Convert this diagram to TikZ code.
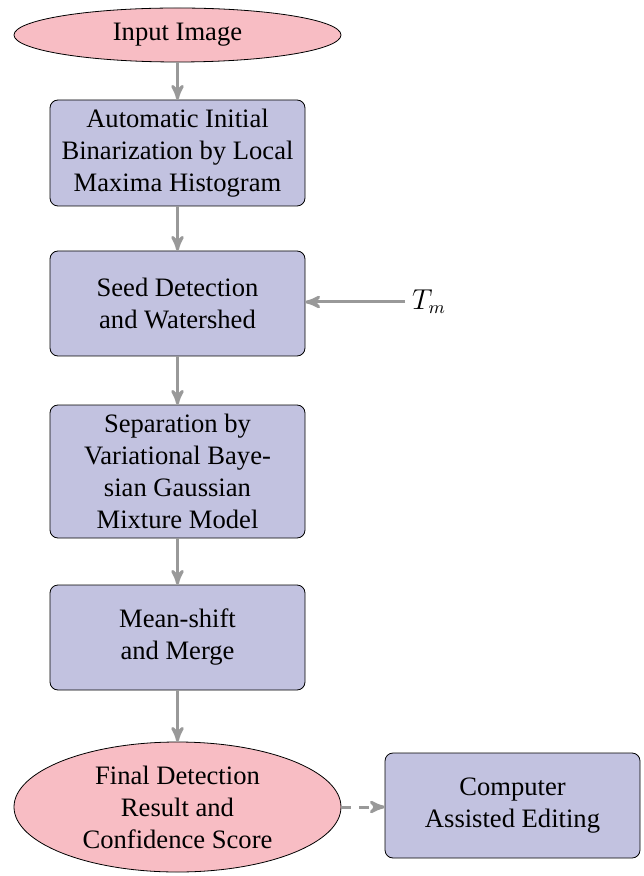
\documentclass[tikz,border=0pt]{standalone}
\usepackage{fontspec}
\setmainfont{Liberation Serif}
\usepackage{amsmath}
\usepackage{xcolor}
\usepackage{tikz}
\usetikzlibrary{arrows,shapes}

\definecolor{boxblue}{RGB}{194,194,224}
\definecolor{ovalpink}{RGB}{248,189,196}

\begin{document}
\begin{tikzpicture}[x=0.5pt, y=-0.5pt,
                    every node/.style={font=\fontsize{13.3}{16}\selectfont},
                    stage/.style={rectangle, rounded corners=4pt,
                    draw=black, fill=boxblue, align=center,
                    minimum width=127.5pt, inner sep=0pt},
                    terminal/.style={ellipse, draw=black, fill=ovalpink,
                    align=center, inner sep=0pt, minimum width=163.5pt},
                    flow/.style={-stealth', draw=gray!80, line width=1.5pt}]
                    \useasboundingbox (0,0) rectangle (643,876);
                    \node[terminal, minimum height=27pt] (input) at (177.5,35)
                    {Input Image};
                    \node[stage, minimum height=53pt] (binar) at (177.5,153)
                    {Automatic Initial\\Binarization by Local\\Maxima Histogram};
                    \node[stage, minimum height=52.5pt] (seed) at (177.5,303.5)
                    {Seed Detection\\and Watershed};
                    \node[stage, minimum height=66.5pt] (separ) at (177.5,471.5)
                    {Separation by\\Variational Baye-\\sian Gaussian\\Mixture Model};
                    \node[stage, minimum height=52.5pt] (shift) at (177.5,637.5)
                    {Mean-shift\\and Merge};
                    \node[terminal, minimum height=65pt] (final) at (177.5,807)
                    {Final Detection\\Result and\\Confidence Score};
                    \node[stage, minimum height=52.5pt] (edit) at (512.5,805.5)
                    {Computer\\Assisted Editing};
                    \node (tm) at (429,302) {$T_m$};
                    \draw[flow] (input) -- (binar);
                    \draw[flow] (binar) -- (seed);
                    \draw[flow] (seed) -- (separ);
                    \draw[flow] (separ) -- (shift);
                    \draw[flow] (shift) -- (final);
                    \draw[flow] (tm.west) -- (tm.west -| seed.east);
                    \draw[flow, dash pattern=on 5pt off 4pt] (final.east) -- (final.east -| edit.west);
                    \end{tikzpicture}
\end{document}
